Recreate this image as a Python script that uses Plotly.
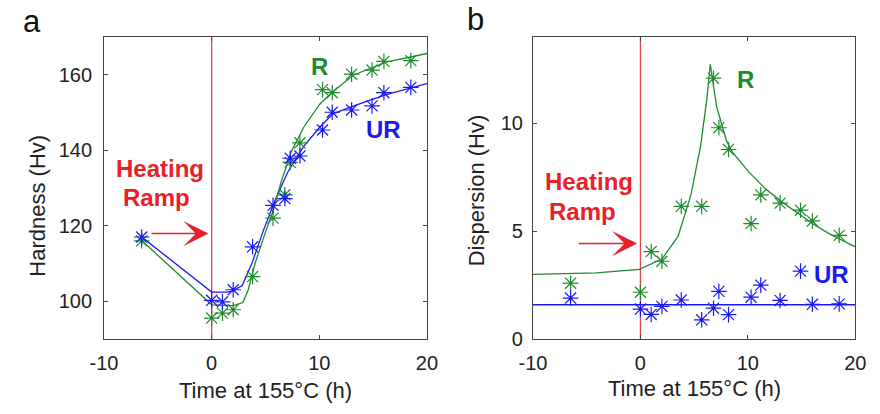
import plotly.graph_objects as go

# ---------------- data ----------------
time_h = [-6.5, 0, 1, 2, 3.8, 5.7, 6.8, 7.3, 8.2, 10.3, 11.2, 13.0, 14.9, 16.0, 18.5]

hard_R = [116, 95.5, 96.8, 97.7, 106.5, 122, 128.2, 136.8, 142, 156.1, 155.3, 160.2, 161.3, 163.6, 163.8]
hard_UR = [117, 100.2, 99.8, 103, 114.4, 125.4, 127.2, 137.9, 138.5, 145.4, 150.1, 150.7, 151.8, 155.3, 156.7]

disp_R = [2.58, 2.16, 4.05, 3.6, 6.15, 6.15, 12.1, 9.8, 8.79, 5.35, 6.68, 6.3, 5.97, 5.47, 4.8]
disp_UR = [1.89, 1.38, 1.13, 1.5, 1.8, 0.88, 1.42, 2.2, 1.12, 1.93, 2.49, 1.78, 3.14, 1.6, 1.62]

# fitted curves
fit_hard_R_x = [-6.5, 0, 2.0, 2.9, 3.4, 4.04, 4.95, 5.7, 6.45, 7.36, 8.56, 10.06, 10.97, 11.7, 13.2, 16.2, 20]
fit_hard_R_y = [116.1, 99.0, 98.8, 99.6, 103, 110.1, 117.9, 123.9, 131.6, 139.4, 146.2, 152.3, 154.8, 156.6, 160.0, 163.4, 165.7]
fit_hard_UR_x = [-6.5, 0, 1.5, 2.0, 2.84, 3.75, 4.8, 5.85, 7.06, 8.56, 10.06, 11.26, 13.2, 16.2, 20]
fit_hard_UR_y = [117.0, 102.4, 102.4, 102.8, 104.1, 110.1, 118.7, 126.5, 134.2, 141.1, 146.2, 149.7, 151.8, 154.8, 157.7]

fit_disp_R_x = [-10, -4.1, -0.1, 2.0, 3.5, 4.7, 5.6, 6.2, 6.5, 7.1, 8.0, 8.6, 10.1, 11.6, 13.1, 14.6, 16.1, 17.6, 20]
fit_disp_R_y = [2.99, 3.06, 3.22, 3.7, 4.75, 6.68, 8.95, 11.2, 12.75, 10.76, 9.2, 8.64, 7.74, 6.98, 6.38, 5.85, 5.32, 4.87, 4.27]
fit_disp_UR_x = [-10, 20]
fit_disp_UR_y = [1.58, 1.58]

x_ticks = [-10, 0, 10, 20]
x_tick_text = ["-10", "0", "10", "20"]
hard_ticks = [100, 120, 140, 160]
disp_ticks = [0, 5, 10]

# ---------------- style ----------------
GREEN = "#1f8a2f"
BLUE = "#1a1af0"
RED = "#e8202a"
REDLINE = "#e0474c"
AXC = "#444444"
FONT = "Liberation Sans, Arial, sans-serif"

fig = go.Figure()

def add_series(x, y, color, xa, ya):
    fig.add_trace(go.Scatter(x=x, y=y, mode="markers", xaxis=xa, yaxis=ya,
                             marker=dict(symbol="asterisk-open", size=13, color=color,
                                         line=dict(color=color, width=1.2)),
                             showlegend=False, hoverinfo="skip"))

def add_fit(x, y, color, xa, ya):
    fig.add_trace(go.Scatter(x=x, y=y, mode="lines", xaxis=xa, yaxis=ya,
                             line=dict(color=color, width=1.3),
                             showlegend=False, hoverinfo="skip"))

# panel a
add_fit(fit_hard_UR_x, fit_hard_UR_y, BLUE, "x", "y")
add_fit(fit_hard_R_x, fit_hard_R_y, GREEN, "x", "y")
add_series(time_h, hard_R, GREEN, "x", "y")
add_series(time_h, hard_UR, BLUE, "x", "y")
# panel b
add_fit(fit_disp_UR_x, fit_disp_UR_y, BLUE, "x2", "y2")
add_fit(fit_disp_R_x, fit_disp_R_y, GREEN, "x2", "y2")
add_series(time_h, disp_R, GREEN, "x2", "y2")
add_series(time_h, disp_UR, BLUE, "x2", "y2")

axis_common = dict(showline=True, linecolor=AXC, linewidth=1, mirror="ticks",
                   ticks="inside", ticklen=4, tickcolor=AXC, showgrid=False,
                   zeroline=False, tickfont=dict(family=FONT, size=20, color="#222"))

fig.update_layout(
    width=880, height=414,
    margin=dict(l=0, r=0, t=0, b=0),
    plot_bgcolor="white", paper_bgcolor="white",
    xaxis=dict(domain=[0.1053, 0.483], range=[-10, 20], tickvals=x_ticks, ticktext=x_tick_text,
               anchor="y", ticklabelstandoff=6, **axis_common),
    yaxis=dict(domain=[0.1594, 0.9075], range=[90, 170], tickvals=hard_ticks, anchor="x",
               ticklabelstandoff=7, **axis_common),
    xaxis2=dict(domain=[0.607, 0.984], range=[-10, 20], tickvals=x_ticks, ticktext=x_tick_text,
                anchor="y2", ticklabelstandoff=6, **axis_common),
    yaxis2=dict(domain=[0.1594, 0.9075], range=[0, 14], tickvals=disp_ticks, anchor="x2",
                ticklabelstandoff=5, **axis_common),
)

# vertical heating lines
for xr, yr in [("x", "y domain"), ("x2", "y2 domain")]:
    fig.add_shape(type="line", xref=xr, yref=yr, x0=0, x1=0, y0=0, y1=1,
                  line=dict(color=REDLINE, width=1.3), layer="below")

ann = []
def txt(x, y, s, size, color, xref="paper", yref="paper", bold=False, angle=0):
    ann.append(dict(x=x, y=y, xref=xref, yref=yref, text=("<b>%s</b>" % s) if bold else s,
                    showarrow=False, textangle=angle, xanchor="center", yanchor="middle",
                    font=dict(family=FONT, size=size, color=color)))

W, H = 880.0, 414.0
# panel labels
txt(18.3 / W, 1 - 22 / H, "a", 31, "#111")
txt(475 / W, 1 - 20 / H, "b", 31, "#111")
# axis titles
txt(23.3 / W, 1 - 211.7 / H, "Hardness (Hv)", 22, "#222", angle=-90)
txt(476 / W, 1 - 195 / H, "Dispersion (Hv)", 22, "#222", angle=-90)
txt(259 / W, 1 - 401 / H, "Time at 155°C (h)", 22, "#222")
txt(700 / W, 1 - 399 / H, "Time at 155°C (h)", 22, "#222")

# heating ramp labels
txt(-4.83, 135.2, "Heating", 24, RED, "x", "y", bold=True)
txt(-5.13, 127.4, "Ramp", 24, RED, "x", "y", bold=True)
txt(-4.81, 7.29, "Heating", 24, RED, "x2", "y2", bold=True)
txt(-5.42, 5.93, "Ramp", 24, RED, "x2", "y2", bold=True)

# series labels
txt(10.06, 162.2, "R", 24, GREEN, "x", "y", bold=True)
txt(15.94, 145.5, "UR", 24, BLUE, "x", "y", bold=True)
txt(9.77, 12.02, "R", 24, GREEN, "x2", "y2", bold=True)
txt(17.79, 2.97, "UR", 24, BLUE, "x2", "y2", bold=True)

# arrows
for xr, yr, tail_x, head_x, yv in [("x", "y", -5.73, -0.3, 117.9), ("x2", "y2", -5.87, -0.3, 4.42)]:
    ann.append(dict(x=head_x, y=yv, ax=tail_x, ay=yv, xref=xr, yref=yr, axref=xr, ayref=yr,
                    text="", showarrow=True, arrowhead=3, arrowsize=2.8, arrowwidth=1.5,
                    arrowcolor=RED, standoff=0, startstandoff=0))

fig.update_layout(annotations=ann)
fig.write_html("out.html", config={"displayModeBar": False},
               post_script="document.body.style.margin='0';document.body.style.overflow='hidden';"
                           "document.documentElement.style.overflow='hidden';")
